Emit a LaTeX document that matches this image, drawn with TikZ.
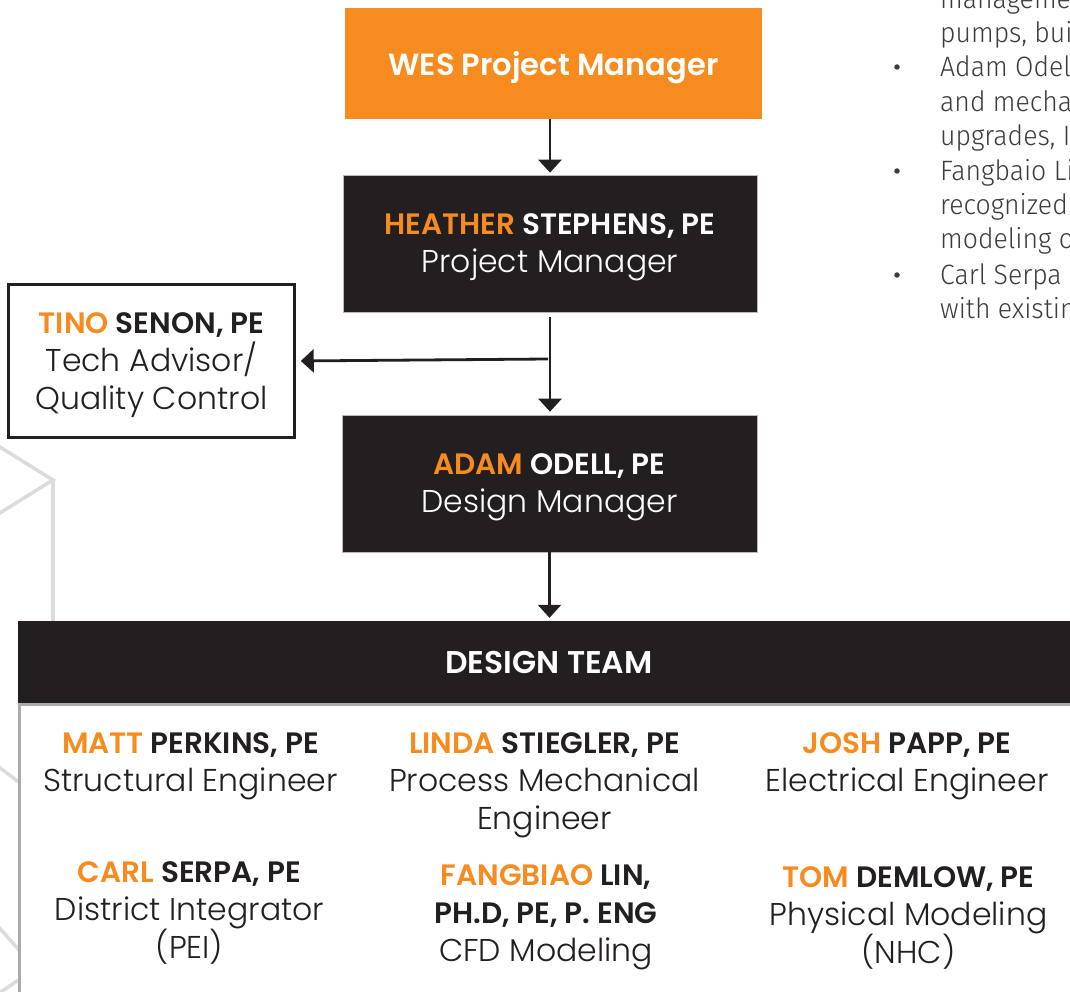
\documentclass[tikz,border=0pt]{standalone}
\usepackage{fontspec}
\setmainfont{Poppins}
\newfontfamily\nmfont{Poppins SemiBold}
\newfontfamily\ttlfont{Poppins Light}
\newfontfamily\sidefont[FakeStretch=0.95]{Fira Sans Light}
\usetikzlibrary{arrows.meta}
\definecolor{wesorange}{HTML}{F68B1F}
\definecolor{darkbox}{HTML}{231F20}
\definecolor{sidegray}{HTML}{3C3C3C}
\definecolor{hexgray}{HTML}{DCDCDC}
\definecolor{rulegray}{HTML}{ABABAB}
\newcommand{\nmsize}{\fontsize{29.5}{38}\selectfont}
\newcommand{\ttlsize}{\fontsize{31.5}{38}\selectfont}
\newcommand{\nmline}[2]{{\nmsize\nmfont\textcolor{wesorange}{#1} #2}}
\begin{document}
\begin{tikzpicture}[x=1pt,y=-1pt,
  arr/.style={line width=2.8pt, draw=darkbox, -{Triangle[length=13pt,width=23pt]}},
  orangebox/.style={fill=wesorange, text=white, inner sep=0pt, minimum width=417pt, minimum height=111pt,
    text depth=0pt, font=\fontsize{30.6}{36}\nmfont},
  darkrect/.style={fill=darkbox, draw=gray!55, line width=0.7pt, text=white, align=center, inner sep=0pt,
    minimum width=415pt, minimum height=137pt, text depth=0pt, font=\ttlsize\ttlfont},
  whiterect/.style={fill=white, draw=darkbox, line width=2.5pt, text=darkbox, align=center, inner sep=0pt,
    minimum width=286pt, minimum height=153pt, text depth=0pt, font=\ttlsize\ttlfont},
  teambar/.style={fill=darkbox, text=white, inner sep=0pt, minimum width=1062pt, minimum height=82pt,
    text depth=0pt, font=\fontsize{31.4}{36}\nmfont},
  member/.style={text=darkbox, align=center, inner sep=0pt, text depth=0pt, font=\ttlsize\ttlfont},
  sideline/.style={anchor=base west, inner sep=0pt, text=sidegray, font=\fontsize{28}{34}\sidefont},
  bulletdot/.style={circle, fill=sidegray, inner sep=0pt, minimum size=5.5pt},
  hexline/.style={draw=hexgray, line width=3.5pt}
]
\useasboundingbox (0,0) rectangle (1070,992);
\clip (0,0) rectangle (1070,992);
\fill[white] (0,0) rectangle (1070,992);

% background hexagon lines
\draw[hexline] (-5,444) -- (53,480) -- (-5,516);
\draw[hexline] (53,480) -- (53,625);
\draw[hexline] (-5,764) -- (20,783);
\draw[hexline] (-5,923) -- (20,951);
\draw[hexline] (-5,996) -- (20,979);

% boxes
\node[orangebox] (wes) at (553.5,63.5) {WES Project Manager};
\node[darkrect, minimum width=414pt] (heather) at (550,243.5)
  {\nmline{HEATHER}{STEPHENS, PE}\\ Project Manager};
\node[whiterect] (tino) at (151.5,361)
  {\nmline{TINO}{SENON, PE}\\ Tech Advisor/\\ Quality Control};
\node[darkrect] (adam) at (549.5,483.5)
  {\nmline{ADAM}{ODELL, PE}\\ Design Manager};
\node[teambar] (team) at (549,662) {DESIGN TEAM};

% white team area
\fill[white] (19.5,705) rectangle (1080,1000);
\draw[rulegray, line width=3pt] (19.5,1000) -- (19.5,704.5) -- (1080,704.5);

% connectors
\coordinate (br) at (550,359);
\draw[arr, shorten >=2pt] (wes.south -| heather.north) -- (heather.north);
\draw[arr, shorten <=5pt, shorten >=3pt] (heather.south) -- (adam.north -| heather.south);
\draw[arr, shorten >=5pt] ([xshift=-2pt]br) -- (tino.east);
\draw[arr, shorten >=3pt] (adam.south) -- (team.north -| adam.south);

% team members
\node[member] (matt) at (190.5,762.5) {\nmline{MATT}{PERKINS, PE}\\ Structural Engineer};
\node[member] (linda) at (544.5,781) {\nmline{LINDA}{STIEGLER, PE}\\ Process Mechanical\\ Engineer};
\node[member] (josh) at (907,762.5) {\nmline{JOSH}{PAPP, PE}\\ Electrical Engineer};
\node[member] (carl) at (189.5,910) {\nmline{CARL}{SERPA, PE}\\ District Integrator\\ (PEI)};
\node[member] (fang) at (546,913) {\nmline{FANGBIAO}{LIN,}\\ {\nmsize\nmfont PH.D, PE, P. ENG}\\ CFD Modeling};
\node[member] (tom) at (908.5,915.5) {\nmline{TOM}{DEMLOW, PE}\\ Physical Modeling\\ (NHC)};

% side text (cut at the right edge, as in the reference)
\node[sideline] (s0) at (940,8.5) {management};
\node[sideline] (s1) at (940,43) {pumps, build};
\node[sideline] (s2) at (940,77) {Adam Odell};
\node[sideline] (s3) at (940,112) {and mechanical};
\node[sideline] (s4) at (940,146) {upgrades, I};
\node[sideline] (s5) at (940,181) {Fangbaio Lin};
\node[sideline] (s6) at (940,215) {recognized};
\node[sideline] (s7) at (940,249) {modeling o};
\node[sideline] (s8) at (940,284) {Carl Serpa};
\node[sideline] (s9) at (940,318) {with existing};
\node[bulletdot] (b1) at (897,67) {};
\node[bulletdot] (b2) at (897,171) {};
\node[bulletdot] (b3) at (897,275) {};
\end{tikzpicture}
\end{document}
